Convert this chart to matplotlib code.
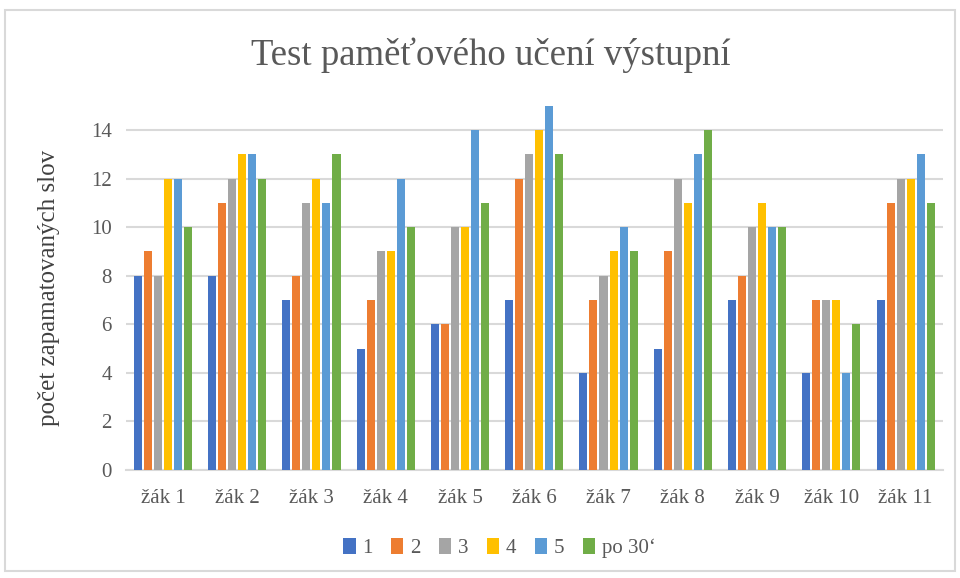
import matplotlib
matplotlib.use("Agg")
import matplotlib.pyplot as plt
import numpy as np
from matplotlib.patches import Rectangle

categories = ["žák 1", "žák 2", "žák 3", "žák 4", "žák 5", "žák 6", "žák 7", "žák 8", "žák 9", "žák 10", "žák 11"]
series_names = ["1", "2", "3", "4", "5", "po 30‘"]
s1 = [8, 8, 7, 5, 6, 7, 4, 5, 7, 4, 7]
s2 = [9, 11, 8, 7, 6, 12, 7, 9, 8, 7, 11]
s3 = [8, 12, 11, 9, 10, 13, 8, 12, 10, 7, 12]
s4 = [12, 13, 12, 9, 10, 14, 9, 11, 11, 7, 12]
s5 = [12, 13, 11, 12, 14, 15, 10, 13, 10, 4, 13]
s6 = [10, 12, 13, 10, 11, 13, 9, 14, 10, 6, 11]
series = [s1, s2, s3, s4, s5, s6]
colors = ["#4472C4", "#ED7D31", "#A5A5A5", "#FFC000", "#5B9BD5", "#70AD47"]

plt.rcParams['font.family'] = ['Liberation Serif', 'DejaVu Serif']

fig = plt.figure(figsize=(9.6, 5.78), dpi=100)
ax = fig.add_axes([0.131, 0.187, 0.851, 0.630])

fig.patches.append(Rectangle((5/960, 1 - 571/578), 950/960, 561/578, transform=fig.transFigure,
                             fill=False, edgecolor="#d9d9d9", linewidth=1.5))

x = np.arange(len(categories))
stride = 0.135
width = 0.108
for i, (vals, c, name) in enumerate(zip(series, colors, series_names)):
    ax.bar(x + (i - 2.5) * stride, vals, width=width, color=c, label=name, zorder=3)

ax.set_xlim(-0.5, len(categories) - 0.5)
ax.set_ylim(0, 15)
ax.set_yticks(range(0, 15, 2))
ax.set_xticks(x)
ax.set_xticklabels(categories)
ax.tick_params(axis='both', length=0, labelsize=15, labelcolor="#595959")
ax.tick_params(axis='x', pad=14)
ax.tick_params(axis='y', pad=10)
ax.grid(axis='y', color="#d9d9d9", linewidth=1.5, zorder=0)
for sp in ["top", "right", "left"]:
    ax.spines[sp].set_visible(False)
ax.spines["bottom"].set_color("#d9d9d9")
ax.spines["bottom"].set_linewidth(1.5)

ax.set_ylabel("počet zapamatovaných slov", fontsize=18, color="#404040", labelpad=22)
fig.text(491/960, 1 - 55/578, "Test paměťového učení výstupní", ha="center", va="center",
         fontsize=26.5, color="#595959")

leg = fig.legend(loc="center", bbox_to_anchor=(0.52, 1 - 548/578), ncol=6, frameon=False,
                 fontsize=15, handlelength=0.6, handleheight=0.8, handletextpad=0.3,
                 columnspacing=0.9)
for t in leg.get_texts():
    t.set_color("#595959")

fig.savefig("out.png", dpi=100)
